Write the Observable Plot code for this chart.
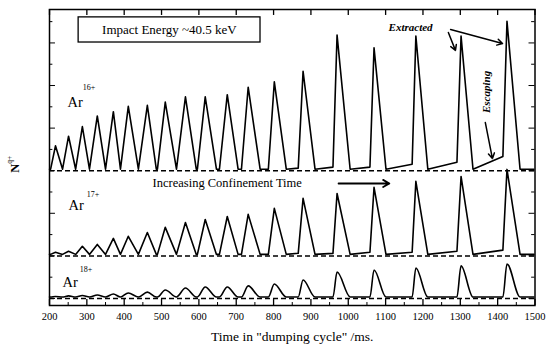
<!DOCTYPE html>
<html><head><meta charset="utf-8">
<script src="https://cdn.jsdelivr.net/npm/d3@7"></script>
<script src="https://cdn.jsdelivr.net/npm/@observablehq/plot@0.6"></script>
<style>body{margin:0;background:#fff} #chart svg{display:block}</style>
</head><body><div id="chart"></div>
<script>
// Dumping-cycle peaks (ms): where the trace leaves baseline, peak time, where it returns
const peakTimes = [216,251,288,328,371,411,462,510,564,617,676,732,802,879,970,1069,1181,1302,1425];
const riseStart = [203,235,270,307,350,390,438,489,540,596,655,714,786,866,959,1058,1171,1291,1414];
const fallEnd   = [235,270,307,350,390,438,486,540,593,647,705,764,834,911,1005,1101,1213,1334,1460];
// Peak heights above each baseline (arbitrary units, 10 per y tick)
const ar16 = [11,15.5,20,25,27,29.5,30,31.5,34,34,35,38.5,41,46,63,57,62.5,62.5,69.5];
const ar17 = [1,1.5,3.8,4.7,7.5,8.5,10.3,12.7,15,16.4,17.8,18.8,21.6,26.3,28.6,31.5,34.3,36.6,39.9];
const ar18 = [0.2,0.5,0.7,0.9,1.4,1.9,2.3,3.3,4.2,4.7,4.7,5.2,6.1,8,11.7,12.7,13.6,14.6,15.5];
// "Escaping" ions: level reached just before the steep rise
const ar16Escape = [0,0,0,0,0,0,0,0,0,0,0,0,0,0.5,1,1,2.3,3.3,6];
const ar17Escape = [0,0,0,0,0,0,0,0,0,0,0,0,0,0.5,0.5,1,1,1.5,2];
const ar18Escape = [0,0,0,0,0,0,0,0,0,0,0,0,0,0,0,0,0,0,0];
const speciesNames = ["Ar16+","Ar17+","Ar18+"];
const speciesBaselines = [60,20,0];
const xTicks = [200,300,400,500,600,700,800,900,1000,1100,1200,1300,1400,1500];
const xMinorTicks = [250,350,450,550,650,750,850,950,1050,1150,1250,1350,1450];
const yTicks = [0,10,20,30,40,50,60,70,80,90,100,110,120,130];

const heights = [ar16, ar17, ar18];
const escapes = [ar16Escape, ar17Escape, ar18Escape];
const traceOffset = 0.7;
const traces = [];
speciesNames.forEach((s, k) => {
  const base = speciesBaselines[k] + traceOffset;
  traces.push({s, t: 200, v: base});
  peakTimes.forEach((t, i) => {
    traces.push({s, t: riseStart[i], v: base + escapes[k][i]});
    traces.push({s, t, v: base + heights[k][i]});
    traces.push({s, t: fallEnd[i], v: base});
  });
  traces.push({s, t: 1497, v: base});
});

const yMin = -3.3, yMax = 135.7;
const serif = "Liberation Serif";

const chart = Plot.plot({
  width: 554, height: 354,
  marginLeft: 49, marginRight: 19.5, marginTop: 9, marginBottom: 49,
  style: {fontFamily: serif, fontSize: "10.5px", background: "#fff", color: "#000"},
  x: {domain: [200, 1500]},
  y: {domain: [yMin, yMax]},
  marks: [
    Plot.ruleY(speciesBaselines, {strokeDasharray: "5,3", strokeWidth: 1.5, stroke: "#000"}),
    Plot.line(traces.filter(d => d.s !== "Ar18+"), {x: "t", y: "v", z: "s", stroke: "#000", strokeWidth: 1.6}),
    Plot.line(traces.filter(d => d.s === "Ar18+"), {x: "t", y: "v", stroke: "#000", strokeWidth: 1.6, curve: "monotone-x"}),
    // inward ticks
    Plot.ruleX(xTicks, {x: d => d, y1: yMin, y2: yMin + 2.8, stroke: "#000", strokeWidth: 1.3}),
    Plot.ruleX(xMinorTicks, {x: d => d, y1: yMin, y2: yMin + 1.4, stroke: "#000"}),
    Plot.ruleX(xTicks, {x: d => d, y1: yMax, y2: yMax - 2.8, stroke: "#000", strokeWidth: 1.3}),
    Plot.ruleY(yTicks, {y: d => d, x1: 200, x2: d => 200 + (d % 20 === 0 ? 16 : 9), stroke: "#000"}),
    Plot.ruleY(yTicks, {y: d => d, x1: 1500, x2: d => 1500 - (d % 20 === 0 ? 16 : 9), stroke: "#000"}),
    Plot.frame({stroke: "#000", strokeWidth: 1.5}),
    Plot.axisX({ticks: xTicks, tickSize: 0, tickPadding: 7, label: null, fontSize: 10.5, tickFormat: d => String(d)}),
    Plot.axisY({ticks: [], label: null}),
    // axis titles
    Plot.text(["Time in \"dumping cycle\" /ms."], {frameAnchor: "bottom", dy: 35, fontSize: 13.5}),
    Plot.text(["N"], {frameAnchor: "left", y: 60, dx: -35, dy: 2, rotate: -90, fontSize: 12.5, fontWeight: "bold"}),
    Plot.text(["q+"], {frameAnchor: "left", y: 60, dx: -40, dy: -7, rotate: -90, fontSize: 7.5}),
    // energy box
    Plot.rect([0], {x1: 278, x2: 765, y1: 120.2, y2: 132, fill: "#fff", stroke: "#000", strokeWidth: 1.3}),
    Plot.text(["Impact Energy ~40.5 keV"], {x: 521, y: 126, fontSize: 13}),
    // species labels
    Plot.text(["Ar"], {x: 248, y: 92, textAnchor: "start", fontSize: 14.5}),
    Plot.text(["16+"], {x: 289, y: 99, textAnchor: "start", fontSize: 8}),
    Plot.text(["Ar"], {x: 251, y: 43.7, textAnchor: "start", fontSize: 14.5}),
    Plot.text(["17+"], {x: 300, y: 49, textAnchor: "start", fontSize: 8}),
    Plot.text(["Ar"], {x: 235, y: 7.5, textAnchor: "start", fontSize: 14.5}),
    Plot.text(["18+"], {x: 281, y: 13.6, textAnchor: "start", fontSize: 8}),
    // confinement arrow
    Plot.text(["Increasing Confinement Time"], {x: 476, y: 54, textAnchor: "start", fontSize: 12.5}),
    Plot.arrow([0], {x1: 974, y1: 54, x2: 1110, y2: 54, stroke: "#000", strokeWidth: 1.8, headLength: 6}),
    // extracted / escaping
    Plot.text(["Extracted"], {x: 1108, y: 127.3, textAnchor: "start", fontSize: 11, fontStyle: "italic", fontWeight: "bold"}),
    Plot.arrow([0], {x1: 1268, y1: 124.9, x2: 1287, y2: 116.5, stroke: "#000", strokeWidth: 1.5, headLength: 6}),
    Plot.arrow([0], {x1: 1274, y1: 126.3, x2: 1413, y2: 119.7, stroke: "#000", strokeWidth: 1.5, headLength: 6}),
    Plot.text(["Escaping"], {x: 1370, y: 97, rotate: -90, fontSize: 11, fontStyle: "italic", fontWeight: "bold"}),
    Plot.arrow([0], {x1: 1367, y1: 82.6, x2: 1386, y2: 65.7, stroke: "#000", strokeWidth: 1.5, headLength: 6})
  ]
});
document.getElementById("chart").appendChild(chart);
</script>
</body></html>
